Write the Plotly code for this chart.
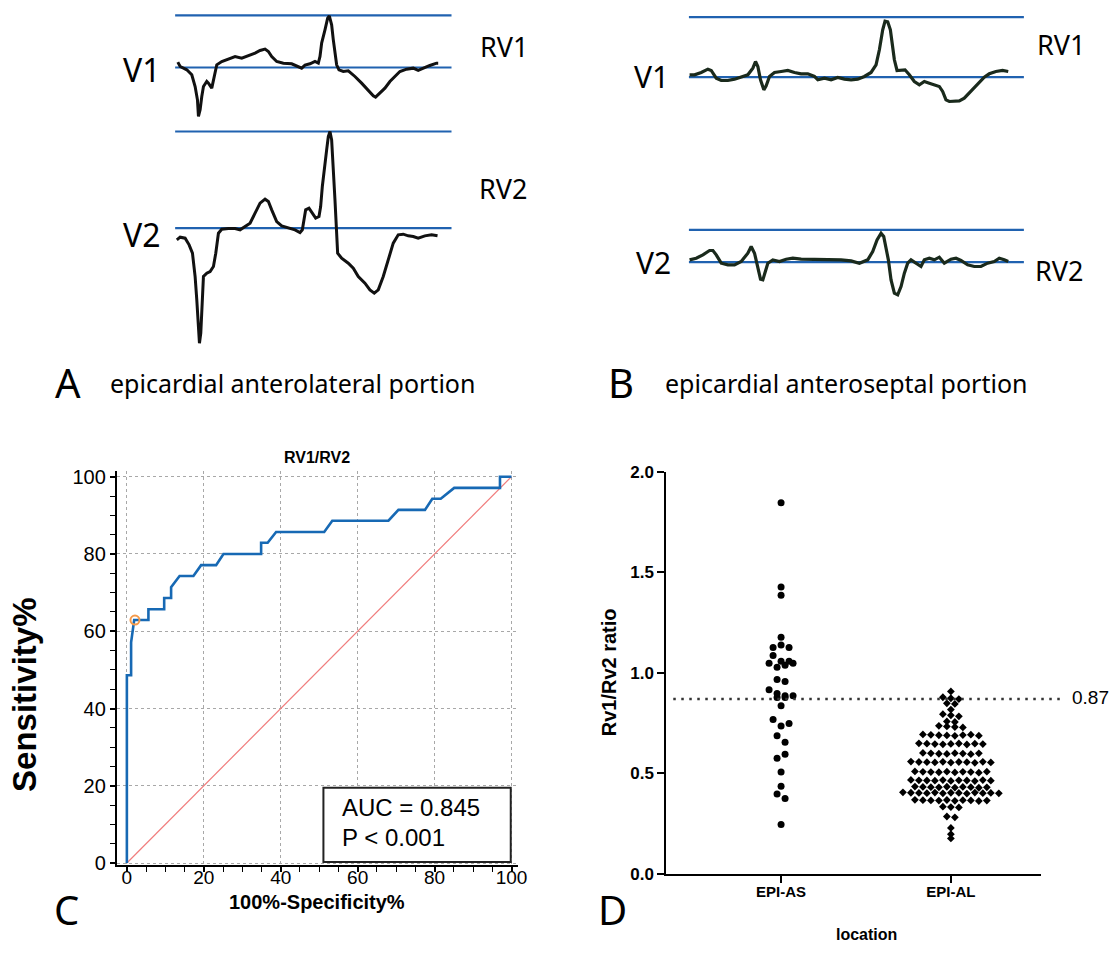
import plotly.graph_objects as go

W, H = 1115, 960

# ---------------- Panel A: epicardial anterolateral (time, amplitude rel. baseline) ----------
a_v1_t = [228,235,255,270,280,287,290,295,300,305,315,320,330,335,340,345,360,380,400,420,
          440,460,475,490,500,510,525,545,570,590,600,610,625,640,650,655,660,670,678,683,
          690,695,700,705,712,725,740,760,780,800,815,822,835,850,865,880,895,915,935,950,
          965,985,1005,1010]
a_v1_v = [16,3,-7,-22,-57,-97,-147,-127,-87,-57,-42,-47,-62,-37,-12,8,18,25,33,28,
          35,43,51,55,48,33,18,13,11,3,-2,7,11,18,13,33,73,113,148,155,
          128,83,43,8,-7,-12,-10,-27,-47,-69,-85,-89,-77,-62,-42,-27,-12,-5,-2,-9,
          -2,6,13,13]
a_v2_t = [225,235,250,262,272,280,285,290,293,297,300,305,315,325,335,342,350,360,380,400,
          415,430,445,460,475,490,500,510,525,540,560,580,595,602,607,612,622,632,642,652,
          657,662,668,675,680,685,690,695,700,705,708,720,740,755,770,790,805,818,830,845,
          860,875,890,905,920,935,950,970,990,1008]
a_v2_v = [-35,-27,-30,-50,-75,-145,-215,-305,-345,-315,-235,-145,-135,-130,-115,-75,-15,-3,-1,-1,
          -5,5,15,45,75,87,80,55,20,7,2,-5,-13,-5,25,55,60,45,30,35,
          65,125,185,235,275,290,265,185,85,-15,-75,-90,-105,-120,-145,-165,-185,-195,-185,-145,
          -95,-45,-20,-18,-23,-25,-30,-23,-20,-23]
a_rv = [156, 290]          # RV1, RV2 amplitude
a_span = [220, 1050]

# ---------------- Panel B: epicardial anteroseptal ----------
b_v1_t = [265,280,300,320,330,345,360,380,400,420,440,455,463,470,478,488,495,505,520,540,
          560,580,600,620,640,650,670,690,710,730,750,770,790,810,825,835,845,852,860,868,
          875,880,888,900,912,925,940,955,970,985,1000,1015,1025,1035,1045,1060,1075,1090,1105,1120,
          1135,1150,1165,1185,1205,1222]
b_v1_v = [7,7,14,24,20,-3,-10,-10,-6,0,7,27,47,32,-8,-38,-26,2,14,17,
          20,14,10,10,2,-8,-3,-8,-1,-6,-8,-6,2,14,37,82,142,168,166,142,
          92,52,20,22,22,7,-13,-23,-13,-18,-23,-28,-43,-68,-73,-71,-71,-63,-48,-30,
          -18,0,10,17,20,17]
b_v2_t = [265,285,305,325,335,345,360,380,400,420,440,450,460,470,478,485,492,500,515,535,
          555,575,600,630,660,690,720,750,775,800,815,828,840,848,855,862,870,880,890,900,
          910,920,930,945,960,970,985,1000,1015,1030,1050,1065,1080,1100,1120,1140,1160,1180,1195,1210,
          1222]
b_v2_v = [7,12,22,35,35,22,-3,-8,-8,2,27,47,27,-13,-51,-53,-28,-3,7,2,
          9,12,9,9,9,9,7,4,-3,7,32,67,87,77,47,7,-53,-93,-98,-73,
          -33,-3,7,-3,-13,7,12,7,15,-3,9,12,5,-8,-13,-13,-3,2,12,7,
          2]
b_rv = [180, 97]
b_span = [263, 1269]

# ---------------- Panel C: ROC ----------
roc_fpr = [0, 0, 1.1, 1.1, 1.9, 5.6, 5.6, 9.7, 9.7, 11.5, 11.5, 13.7, 17.3, 19.3, 23.2, 25.1,
           34.9, 34.9, 36.6, 38.8, 51.3, 53.4, 68.0, 70.6, 77.5, 79.4, 81.6, 85.1, 97.0, 97.0, 100]
roc_tpr = [0, 48.6, 48.6, 57.1, 62.9, 62.9, 65.7, 65.7, 68.6, 68.6, 71.4, 74.3, 74.3, 77.1, 77.1, 80.0,
           80.0, 82.9, 82.9, 85.7, 85.7, 88.6, 88.6, 91.4, 91.4, 94.3, 94.3, 97.1, 97.1, 100, 100]
cut_fpr, cut_tpr = 2.1, 62.9
auc_text = ["AUC = 0.845", "P < 0.001"]

# ---------------- Panel D: dot plot ----------
groups = ["EPI-AS", "EPI-AL"]
as_vals = [1.846, 1.427, 1.386, 1.178, 1.127, 1.139, 1.127, 1.087,
           1.058, 1.048, 1.028, 1.038, 1.048, 1.058, 0.967, 0.957, 0.917,
           0.898, 0.887, 0.878, 0.887, 0.878, 0.837, 0.769, 0.736, 0.748,
           0.688, 0.655, 0.576, 0.595, 0.507, 0.437, 0.398, 0.376, 0.246]
al_vals = [0.908,
           0.879, 0.874, 0.870,
           0.849, 0.846,
           0.818,
           0.795, 0.789, 0.784,
           0.759, 0.756,
           0.737, 0.734, 0.731, 0.729,
           0.694, 0.692, 0.690, 0.689, 0.687, 0.691, 0.693, 0.688,
           0.650, 0.648, 0.646, 0.645, 0.647, 0.649, 0.644, 0.648, 0.646,
           0.602, 0.600, 0.598, 0.597, 0.601, 0.599, 0.596, 0.600,
           0.559, 0.557, 0.556, 0.555, 0.558, 0.554, 0.557, 0.556, 0.553, 0.558, 0.555,
           0.510, 0.508, 0.507, 0.506, 0.509, 0.505, 0.508, 0.507, 0.504, 0.509,
           0.468, 0.466, 0.465, 0.464, 0.467, 0.463, 0.466, 0.465, 0.462, 0.467, 0.464,
           0.435, 0.433, 0.432, 0.431, 0.434, 0.430, 0.433, 0.432, 0.429, 0.431,
           0.406, 0.404, 0.403, 0.402, 0.405, 0.401, 0.404, 0.403, 0.400, 0.405, 0.402, 0.403, 0.401,
           0.369, 0.367, 0.366, 0.365, 0.368, 0.364, 0.367, 0.366, 0.363, 0.365,
           0.335, 0.333, 0.331,
           0.286, 0.282,
           0.229, 0.198, 0.177]
cutoff = 0.87
d_yticks = [0, 0.5, 1.0, 1.5, 2.0]

# ======================================================================
# positions below are given in target-picture pixels; the capture maps page
# pixels slightly (x' = -2 + 0.993 X, y' = 9.2 + 0.98 Y), so undo that here.
SX, OX, SY, OY = 0.993, -2.0, 0.98, 9.2


def fx(px):
    return min(1.0, max(0.0, ((px - OX) / SX) / W))


def fy(py):
    return min(1.0, max(0.0, 1 - ((py - OY) / SY) / H))


D_XR = [-0.676, 1.53]
D_DOM = [665, 1040]
PX_PER_X = (D_DOM[1] - D_DOM[0]) / (D_XR[1] - D_XR[0])


def swarm(vals, tol, step_px):
    order = sorted(range(len(vals)), key=lambda i: -vals[i])
    bins, cur, top = [], [order[0]], vals[order[0]]
    for i in order[1:]:
        if top - vals[i] <= tol:
            cur.append(i)
        else:
            bins.append(cur)
            cur, top = [i], vals[i]
    bins.append(cur)
    offs = [0.0] * len(vals)
    for b in bins:
        b = sorted(b)
        n = len(b)
        for k, i in enumerate(b):
            offs[i] = (k - (n - 1) / 2) * step_px / PX_PER_X
    return offs


fig = go.Figure()

BLUE = "#2062b0"
# ---- Panel A traces
a_base = [-203, -685]
for k, (t, v) in enumerate([(a_v1_t, a_v1_v), (a_v2_t, a_v2_v)]):
    b = a_base[k]
    for lvl in (b, b + a_rv[k]):
        fig.add_trace(go.Scatter(x=a_span, y=[lvl, lvl], mode="lines",
                                 line=dict(color=BLUE, width=2.2), xaxis="x", yaxis="y",
                                 hoverinfo="skip"))
    fig.add_trace(go.Scatter(x=t, y=[b + q for q in v], mode="lines",
                             line=dict(color="#111111", width=3), xaxis="x", yaxis="y"))

# ---- Panel B traces
b_base = [-232, -787]
for k, (t, v) in enumerate([(b_v1_t, b_v1_v), (b_v2_t, b_v2_v)]):
    b = b_base[k]
    for lvl in (b, b + b_rv[k]):
        fig.add_trace(go.Scatter(x=b_span, y=[lvl, lvl], mode="lines",
                                 line=dict(color=BLUE, width=2.2), xaxis="x2", yaxis="y2",
                                 hoverinfo="skip"))
    fig.add_trace(go.Scatter(x=t, y=[b + q for q in v], mode="lines",
                             line=dict(color="#1a2a1c", width=3.2), xaxis="x2", yaxis="y2"))

# ---- Panel C
fig.add_trace(go.Scatter(x=[0, 100], y=[0, 100], mode="lines",
                         line=dict(color="#f07c7c", width=1.2), xaxis="x3", yaxis="y3"))
fig.add_trace(go.Scatter(x=roc_fpr, y=roc_tpr, mode="lines",
                         line=dict(color="#1769b4", width=2.6), xaxis="x3", yaxis="y3"))
fig.add_trace(go.Scatter(x=[cut_fpr], y=[cut_tpr], mode="markers",
                         marker=dict(symbol="circle-open", size=9, color="#f59a4a",
                                     line=dict(width=2, color="#f59a4a")),
                         xaxis="x3", yaxis="y3"))

# ---- Panel D
as_off = swarm(as_vals, 0.035, 8)
al_off = swarm(al_vals, 0.015, 8)
fig.add_trace(go.Scatter(x=[0 + o for o in as_off], y=as_vals, mode="markers",
                         marker=dict(symbol="circle", size=7, color="black"),
                         xaxis="x4", yaxis="y4"))
fig.add_trace(go.Scatter(x=[1 + o for o in al_off], y=al_vals, mode="markers",
                         marker=dict(symbol="diamond", size=6, color="black"),
                         xaxis="x4", yaxis="y4"))

ARIAL = "Liberation Sans, Arial, sans-serif"
NOTO = "Noto Sans, sans-serif"

hidden = dict(visible=False, showgrid=False, zeroline=False)


def c_axis(fs):
    return dict(showline=True, linecolor="black", linewidth=2, ticks="outside",
                ticklen=5, tickwidth=1.5, tickcolor="black", showgrid=True,
                gridcolor="#a8a8a8", griddash="dot", gridwidth=1, zeroline=False,
                tickfont=dict(family=ARIAL, size=fs, color="black"),
                tickvals=[0, 20, 40, 60, 80, 100],
                minor=dict(dtick=5, ticks="outside", ticklen=5, tickwidth=1.2,
                           tickcolor="black", showgrid=False))


fig.update_layout(
    width=W, height=H, margin=dict(l=0, r=0, t=0, b=0, pad=0), autosize=False,
    paper_bgcolor="white", plot_bgcolor="white", showlegend=False,
    xaxis=dict(domain=[fx(100), fx(560)], range=[0, 1380], **hidden),
    yaxis=dict(domain=[fy(360), fy(12)], range=[-1080, -36], **hidden),
    xaxis2=dict(domain=[fx(600), fx(1035)], range=[0, 1305], anchor="y2", **hidden),
    yaxis2=dict(domain=[fy(330), fy(12)], range=[-990, -36], anchor="x2", **hidden),
    xaxis3=dict(domain=[fx(115), fx(517)], range=[-2.6, 101.8], anchor="y3",
                ticklabelstandoff=-11, **c_axis(19)),
    yaxis3=dict(domain=[fy(865), fy(471)], range=[-0.5, 101.5], anchor="x3", **c_axis(20)),
    xaxis4=dict(domain=[fx(D_DOM[0]), fx(D_DOM[1])], range=D_XR, anchor="y4",
                showline=True, linecolor="black", linewidth=2, ticks="outside",
                ticklen=7, tickwidth=2, tickcolor="black", showgrid=False, zeroline=False,
                tickvals=[0, 1], ticktext=groups, ticklabelstandoff=-4,
                tickfont=dict(family=ARIAL, size=15, color="black", weight="bold")),
    yaxis4=dict(domain=[fy(874), fy(472)], range=[0, 2], anchor="x4",
                showline=True, linecolor="black", linewidth=2, ticks="outside",
                ticklen=7, tickwidth=2, tickcolor="black", showgrid=False, zeroline=False,
                tickvals=d_yticks, ticktext=[f"{v:.1f}" for v in d_yticks],
                tickfont=dict(family=ARIAL, size=17, color="black", weight="bold")),
)

# box in panel C
fig.add_shape(type="rect", xref="x3", yref="y3", x0=51.1, x1=99.8, y0=0.3, y1=19.5,
              line=dict(color="#222222", width=2), fillcolor="white", layer="above")
fig.add_annotation(x=55.3, y=14.3, xref="x3", yref="y3", text=auc_text[0], showarrow=False,
                   xanchor="left", yanchor="middle", font=dict(family=ARIAL, size=24, color="black"))
fig.add_annotation(x=55.3, y=6.5, xref="x3", yref="y3", text=auc_text[1], showarrow=False,
                   xanchor="left", yanchor="middle", font=dict(family=ARIAL, size=24, color="black"))

# cutoff dotted line in panel D
fig.add_shape(type="line", xref="paper", yref="y4", x0=fx(672), x1=fx(1060), y0=cutoff, y1=cutoff,
              line=dict(color="#333333", width=2.5, dash="2.5px,5.5px"))


def label(px, py, text, size, family=NOTO, bold=False, anchor="center", angle=0):
    fig.add_annotation(x=fx(px), y=fy(py), xref="paper", yref="paper", text=text,
                       showarrow=False, xanchor=anchor, yanchor="middle", textangle=angle,
                       font=dict(family=family, size=size, color="black",
                                 weight="bold" if bold else "normal"))


# panel A/B labels
label(140, 70, "V1", 32)
label(503, 47, "RV1", 27)
label(140, 235, "V2", 32)
label(502, 189, "RV2", 27)
label(650, 77, "V1", 30)
label(1060, 45, "RV1", 27)
label(652, 263, "V2", 30)
label(1058, 271, "RV2", 27)
label(66, 383, "A", 40)
label(106, 383, "epicardial anterolateral portion", 25, anchor="left")
label(620, 383, "B", 40)
label(662, 383, "epicardial anteroseptal portion", 25, anchor="left")

# panel C texts
label(315, 458, "RV1/RV2", 16, family=ARIAL, bold=True)
label(23, 695, "Sensitivity%", 33, family=ARIAL, bold=True, angle=-90)
label(315, 902, "100%-Specificity%", 20, family=ARIAL, bold=True)
label(65, 910, "C", 40)

# panel D texts
label(608, 672, "Rv1/Rv2 ratio", 20, family=ARIAL, bold=True, angle=-90)
label(865, 935, "location", 16, family=ARIAL, bold=True)
label(1090, 698, f"{cutoff:.2f}", 19, family=ARIAL)
label(611, 910, "D", 40)

post = ("var gd=document.getElementById('{plot_id}');"
        "gd.style.position='absolute';gd.style.left='0px';gd.style.top='0px';"
        "document.body.style.margin='0';document.body.style.overflow='hidden';"
        "document.documentElement.style.overflow='hidden';")
fig.write_html("out.html", config={"displayModeBar": False}, post_script=post)
